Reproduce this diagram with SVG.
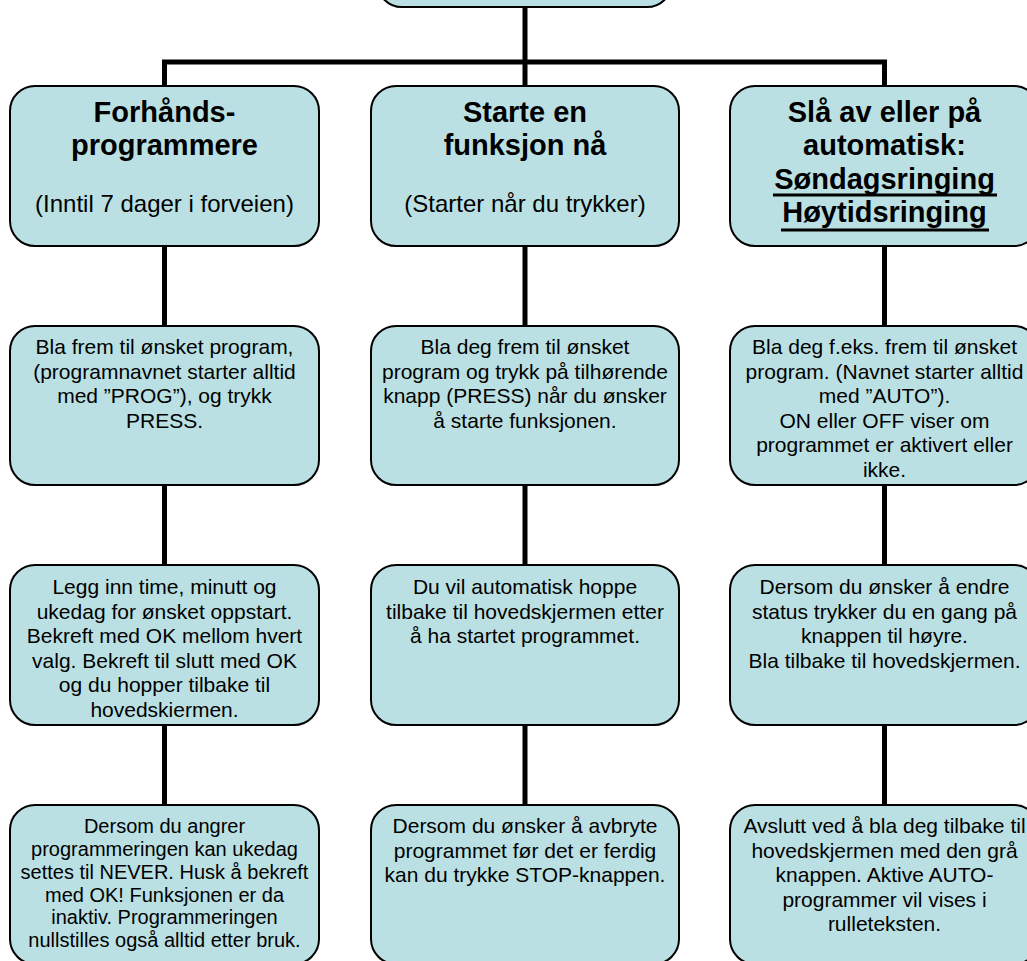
<svg xmlns="http://www.w3.org/2000/svg" width="1027" height="961" viewBox="0 0 1027 961">
<style>
.box{fill:#BBE0E3;stroke:#000;stroke-width:2}
.c{stroke:#000;stroke-width:5;fill:none}
text{font-family:"Liberation Sans",Arial,sans-serif;fill:#000;text-anchor:middle}
.t{font-size:29px;font-weight:bold}
.s{font-size:24px}
.b{font-size:21px}
.b2{font-size:20px}
.u{stroke:#000;stroke-width:3}
</style>
<rect width="1027" height="961" fill="#fff"/>
<g id="connectors">
<line class="c" x1="525" y1="7" x2="525" y2="86"/>
<line class="c" x1="162" y1="62" x2="887" y2="62"/>
<line class="c" x1="164.5" y1="62" x2="164.5" y2="86"/>
<line class="c" x1="884.5" y1="62" x2="884.5" y2="86"/>
<line class="c" x1="164.5" y1="246" x2="164.5" y2="326"/>
<line class="c" x1="164.5" y1="485" x2="164.5" y2="565"/>
<line class="c" x1="164.5" y1="725" x2="164.5" y2="805"/>
<line class="c" x1="525" y1="246" x2="525" y2="326"/>
<line class="c" x1="525" y1="485" x2="525" y2="565"/>
<line class="c" x1="525" y1="725" x2="525" y2="805"/>
<line class="c" x1="884.5" y1="246" x2="884.5" y2="326"/>
<line class="c" x1="884.5" y1="485" x2="884.5" y2="565"/>
<line class="c" x1="884.5" y1="725" x2="884.5" y2="805"/>
</g>
<g id="root"><rect class="box" x="377" y="-150" width="295" height="157" rx="25"/></g>
<g id="n1">
<rect class="box" x="10" y="86" width="309" height="160" rx="25"/>
<text class="t"><tspan x="164.5" y="122">Forhånds-</tspan><tspan x="164.5" y="155">programmere</tspan></text>
<text class="s" x="164.5" y="212">(Inntil 7 dager i forveien)</text>
</g>
<g id="n2">
<rect class="box" x="371" y="86" width="308" height="160" rx="25"/>
<text class="t"><tspan x="525" y="122">Starte en</tspan><tspan x="525" y="155">funksjon nå</tspan></text>
<text class="s" x="525" y="212">(Starter når du trykker)</text>
</g>
<g id="n3">
<rect class="box" x="730" y="86" width="309" height="160" rx="25"/>
<text class="t"><tspan x="884.5" y="121.5">Slå av eller på</tspan><tspan x="884.5" y="155">automatisk:</tspan><tspan x="884.5" y="188.5">Søndagsringing</tspan><tspan x="884.5" y="222">Høytidsringing</tspan></text>
<line class="u" x1="773" y1="195" x2="997" y2="195"/>
<line class="u" x1="781" y1="230" x2="989" y2="230"/>
</g>
<g id="n4">
<rect class="box" x="10" y="326" width="309" height="159" rx="25"/>
<text class="b"><tspan x="164.5" y="354">Bla frem til ønsket program,</tspan><tspan x="164.5" y="378.5">(programnavnet starter alltid</tspan><tspan x="164.5" y="403">med ”PROG”), og trykk</tspan><tspan x="164.5" y="427.5">PRESS.</tspan></text>
</g>
<g id="n5">
<rect class="box" x="371" y="326" width="308" height="159" rx="25"/>
<text class="b"><tspan x="525" y="354">Bla deg frem til ønsket</tspan><tspan x="525" y="378.5">program og trykk på tilhørende</tspan><tspan x="525" y="403">knapp (PRESS) når du ønsker</tspan><tspan x="525" y="427.5">å starte funksjonen.</tspan></text>
</g>
<g id="n6">
<rect class="box" x="730" y="326" width="309" height="159" rx="25"/>
<text class="b"><tspan x="884.5" y="354">Bla deg f.eks. frem til ønsket</tspan><tspan x="884.5" y="378.5">program. (Navnet starter alltid</tspan><tspan x="884.5" y="403">med ”AUTO”).</tspan><tspan x="884.5" y="427.5">ON eller OFF viser om</tspan><tspan x="884.5" y="452">programmet er aktivert eller</tspan><tspan x="884.5" y="476.5">ikke.</tspan></text>
</g>
<g id="n7">
<rect class="box" x="10" y="565" width="309" height="160" rx="25"/>
<text class="b"><tspan x="164.5" y="594">Legg inn time, minutt og</tspan><tspan x="164.5" y="618.5">ukedag for ønsket oppstart.</tspan><tspan x="164.5" y="643">Bekreft med OK mellom hvert</tspan><tspan x="164.5" y="667.5">valg. Bekreft til slutt med OK</tspan><tspan x="164.5" y="692">og du hopper tilbake til</tspan><tspan x="164.5" y="716.5">hovedskiermen.</tspan></text>
</g>
<g id="n8">
<rect class="box" x="371" y="565" width="308" height="160" rx="25"/>
<text class="b"><tspan x="525" y="594">Du vil automatisk hoppe</tspan><tspan x="525" y="618.5">tilbake til hovedskjermen etter</tspan><tspan x="525" y="643">å ha startet programmet.</tspan></text>
</g>
<g id="n9">
<rect class="box" x="730" y="565" width="309" height="160" rx="25"/>
<text class="b"><tspan x="884.5" y="594">Dersom du ønsker å endre</tspan><tspan x="884.5" y="618.5">status trykker du en gang på</tspan><tspan x="884.5" y="643">knappen til høyre.</tspan><tspan x="884.5" y="667.5">Bla tilbake til hovedskjermen.</tspan></text>
</g>
<g id="n10">
<rect class="box" x="10" y="805" width="309" height="159" rx="25"/>
<text class="b2"><tspan x="164.5" y="833">Dersom du angrer</tspan><tspan x="164.5" y="856">programmeringen kan ukedag</tspan><tspan x="164.5" y="879">settes til NEVER. Husk å bekreft</tspan><tspan x="164.5" y="901.5">med OK! Funksjonen er da</tspan><tspan x="164.5" y="924">inaktiv. Programmeringen</tspan><tspan x="164.5" y="947">nullstilles også alltid etter bruk.</tspan></text>
</g>
<g id="n11">
<rect class="box" x="371" y="805" width="308" height="159" rx="25"/>
<text class="b"><tspan x="525" y="833">Dersom du ønsker å avbryte</tspan><tspan x="525" y="857.5">programmet før det er ferdig</tspan><tspan x="525" y="882">kan du trykke STOP-knappen.</tspan></text>
</g>
<g id="n12">
<rect class="box" x="730" y="805" width="309" height="159" rx="25"/>
<text class="b"><tspan x="884.5" y="833">Avslutt ved å bla deg tilbake til</tspan><tspan x="884.5" y="857.5">hovedskjermen med den grå</tspan><tspan x="884.5" y="882">knappen. Aktive AUTO-</tspan><tspan x="884.5" y="906.5">programmer vil vises i</tspan><tspan x="884.5" y="931">rulleteksten.</tspan></text>
</g>
</svg>
